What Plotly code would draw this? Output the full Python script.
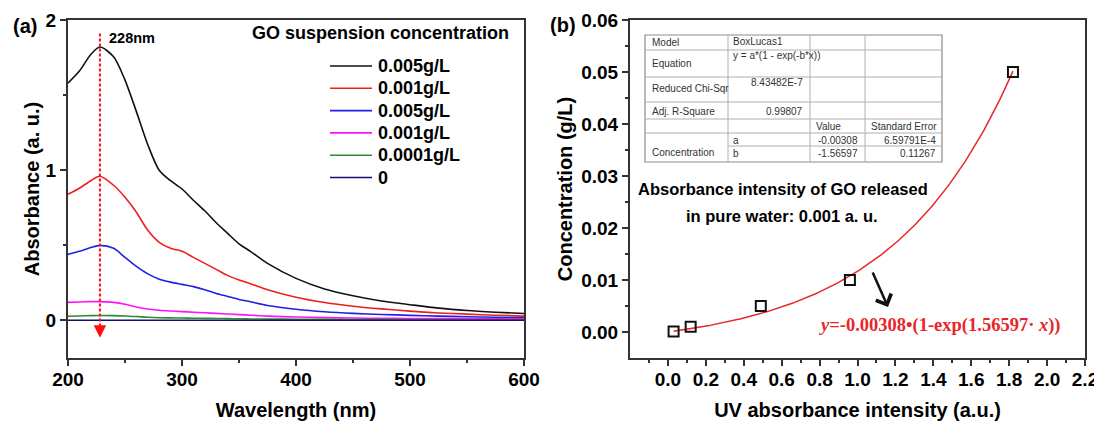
import numpy as np
import plotly.graph_objects as go

# The page body has an 8px default margin, so the figure is drawn 8px in
# from the top-left corner of the 1102x424 window.
PAGE_W, PAGE_H = 1102, 424
OFF = 8
W, H = PAGE_W - OFF, PAGE_H - OFF
FONT = "Liberation Sans, Arial, sans-serif"
SERIF = "Liberation Serif, Times New Roman, serif"

# ---------------- Panel (a) data: UV-vis spectra ----------------
wavelength = [200, 210, 220, 228, 240, 250, 260, 270, 280, 290, 300, 310, 320, 330,
              340, 350, 360, 375, 400, 425, 450, 475, 500, 525, 550, 575, 600]
abs_black = [1.58, 1.66, 1.77, 1.82, 1.755, 1.60, 1.39, 1.17, 1.00, 0.93, 0.875, 0.80, 0.73, 0.65,
             0.58, 0.51, 0.46, 0.38, 0.28, 0.21, 0.165, 0.13, 0.105, 0.082, 0.066, 0.055, 0.046]
abs_red = [0.84, 0.88, 0.93, 0.96, 0.90, 0.82, 0.72, 0.60, 0.52, 0.48, 0.46, 0.42, 0.38, 0.34,
           0.30, 0.27, 0.245, 0.205, 0.155, 0.12, 0.095, 0.077, 0.062, 0.05, 0.042, 0.035, 0.029]
abs_blue = [0.44, 0.46, 0.485, 0.50, 0.48, 0.42, 0.36, 0.31, 0.275, 0.255, 0.24, 0.225, 0.205, 0.18,
            0.16, 0.14, 0.125, 0.10, 0.075, 0.058, 0.047, 0.04, 0.034, 0.029, 0.025, 0.021, 0.018]
abs_magenta = [0.12, 0.123, 0.125, 0.125, 0.12, 0.108, 0.09, 0.076, 0.068, 0.063, 0.059, 0.055, 0.051, 0.047,
               0.043, 0.039, 0.035, 0.029, 0.023, 0.019, 0.016, 0.014, 0.013, 0.012, 0.012, 0.011, 0.011]
abs_green = [0.028, 0.03, 0.032, 0.033, 0.032, 0.03, 0.026, 0.021, 0.018, 0.017, 0.016, 0.015, 0.014, 0.013,
             0.012, 0.011, 0.01, 0.009, 0.008, 0.007, 0.006, 0.006, 0.005, 0.005, 0.005, 0.004, 0.004]
abs_navy = [0.001, 0.001, 0.001, 0.001, 0.001, 0.001, 0.001, 0.001, 0.001, 0.001, 0.001, 0.001, 0.001, 0.001,
            0.001, 0.001, 0.001, 0.001, 0.001, 0.001, 0.001, 0.001, 0.001, 0.001, 0.001, 0.001, 0.001]
legend_labels = ["0.005g/L", "0.001g/L", "0.005g/L", "0.001g/L", "0.0001g/L", "0"]
legend_title = "GO suspension concentration"
peak_nm = 228
peak_label = "228nm"

xticks_a = [200, 300, 400, 500, 600]
yticks_a = [0, 1, 2]

# ---------------- Panel (b) data: calibration ----------------
uv_absorbance = [0.03, 0.12, 0.49, 0.96, 1.82]
concentration = [0.0001, 0.001, 0.005, 0.01, 0.05]
fit_a = -0.00308
fit_b = -1.56597

xticks_b = [0.0, 0.2, 0.4, 0.6, 0.8, 1.0, 1.2, 1.4, 1.6, 1.8, 2.0, 2.2]
yticks_b = [0.00, 0.01, 0.02, 0.03, 0.04, 0.05, 0.06]

note_lines = ["Absorbance intensity of GO released", "in pure water: 0.001 a. u."]

table_col1 = ["Model", "Equation", "Reduced Chi-Sqr", "Adj. R-Square", "Concentration"]
table_model = "BoxLucas1"
table_equation = "y = a*(1 - exp(-b*x))"
table_chisqr = "8.43482E-7"
table_r2 = "0.99807"
table_headers = ["Value", "Standard Error"]
table_params = ["a", "b"]
table_values = ["-0.00308", "-1.56597"]
table_errors = ["6.59791E-4", "0.11267"]


def px(x):
    return (x - OFF) / W


def py(y):
    return 1 - (y - OFF) / H


AX = "#333333"
colors = ["#111111", "#f01d1d", "#2020e6", "#ff10ff", "#2e8b2e", "#101070"]
spectra = [abs_black, abs_red, abs_blue, abs_magenta, abs_green, abs_navy]

fig = go.Figure()
for name, vals, c in zip(legend_labels, spectra, colors):
    fig.add_trace(go.Scatter(x=wavelength, y=vals, mode="lines", name=name,
                             line=dict(color=c, width=1.6, shape="spline", smoothing=0.8),
                             showlegend=False, xaxis="x", yaxis="y"))

# dashed red marker line at the peak
fig.add_trace(go.Scatter(x=[peak_nm, peak_nm], y=[1.91, -0.05], mode="lines",
                         line=dict(color="#ff1010", width=2, dash="3px,2px"),
                         showlegend=False, hoverinfo="skip", xaxis="x", yaxis="y"))

# Panel (b)
fit_x = np.linspace(min(uv_absorbance), max(uv_absorbance), 200)
fit_y = fit_a * (1 - np.exp(-fit_b * fit_x))
fig.add_trace(go.Scatter(x=fit_x, y=fit_y, mode="lines", line=dict(color="#e8262a", width=1.5),
                         showlegend=False, xaxis="x2", yaxis="y2"))
fig.add_trace(go.Scatter(x=uv_absorbance, y=concentration, mode="markers",
                         marker=dict(symbol="square-open", size=10, color="#111111",
                                     line=dict(width=2, color="#111111")),
                         showlegend=False, xaxis="x2", yaxis="y2"))

tickfont = dict(family=FONT, size=19, color="black", weight="bold")
titlefont = dict(family=FONT, size=20, color="black", weight="bold")
common = dict(showline=True, linecolor=AX, linewidth=2, mirror=True, ticks="outside",
              tickcolor=AX, tickwidth=1.5, ticklen=6, tickfont=tickfont, showgrid=False,
              zeroline=False, automargin=False)
minor_common = dict(ticks="outside", ticklen=3, tickcolor=AX, tickwidth=1.5, showgrid=False)

dom_y = [py(358), py(20)]
fig.update_layout(
    width=W, height=H, margin=dict(l=0, r=0, t=0, b=0, autoexpand=False),
    paper_bgcolor="white", plot_bgcolor="white",
    xaxis=dict(domain=[px(68), px(524)], range=[200, 600], tickmode="array", tickvals=xticks_a,
               minor=dict(tickmode="array", tickvals=[250, 350, 450, 550], **minor_common),
               ticklabelstandoff=-3,
               title=dict(text="Wavelength (nm)", font=titlefont, standoff=14), anchor="y", **common),
    yaxis=dict(domain=dom_y, range=[-0.25, 2], tickmode="array", tickvals=yticks_a,
               ticktext=[str(v) for v in yticks_a],
               minor=dict(tickmode="array", tickvals=[0.5, 1.5], **minor_common),
               title=dict(text="Absorbance (a. u.)", font=titlefont, standoff=1), anchor="x", **common),
    xaxis2=dict(domain=[px(630), px(1085)], range=[-0.2, 2.2], tickmode="array", tickvals=xticks_b,
                ticktext=[f"{v:.1f}" for v in xticks_b],
                minor=dict(tickmode="array", tickvals=[round(-0.1 + 0.2 * i, 1) for i in range(12)],
                           **minor_common),
                ticklabelstandoff=-3,
                title=dict(text="UV absorbance intensity (a.u.)", font=titlefont, standoff=14),
                anchor="y2", **common),
    yaxis2=dict(domain=dom_y, range=[-0.005, 0.06], tickmode="array", tickvals=yticks_b,
                ticktext=[f"{v:.2f}" for v in yticks_b],
                minor=dict(tickmode="array", tickvals=[0.005 + 0.01 * i for i in range(6)], **minor_common),
                title=dict(text="Concentration (g/L)", font=titlefont, standoff=3),
                anchor="x2", **common),
    showlegend=False,
)

ann = []
shapes = []
bold = lambda s: dict(family=FONT, size=s, color="black", weight="bold")


def text_at(text, x, y, font, xanchor="center", yanchor="middle"):
    ann.append(dict(text=text, x=px(x), y=py(y), xref="paper", yref="paper", xanchor=xanchor,
                    yanchor=yanchor, showarrow=False, font=font))


text_at("(a)", 25, 26, bold(20))
text_at("(b)", 563, 25, bold(20))
ann.append(dict(text=peak_label, x=peak_nm, y=1.88, xref="x", yref="y", xanchor="left", yanchor="middle",
                xshift=7, showarrow=False, font=bold(14.5)))

# legend (panel a)
text_at(legend_title, 380, 33, bold(18))
leg_y0, leg_dy = 66, 22.3
for i, (lab, c) in enumerate(zip(legend_labels, colors)):
    yy = leg_y0 + i * leg_dy
    shapes.append(dict(type="line", xref="paper", yref="paper", x0=px(330), x1=px(372),
                       y0=py(yy), y1=py(yy), line=dict(color=c, width=1.6)))
    text_at(lab, 376, yy, bold(18), xanchor="left")

# red arrow head at the bottom of the peak line
ann.append(dict(x=peak_nm, y=-0.115, xref="x", yref="y", ax=0, ay=-12, showarrow=True, text="",
                arrowhead=2, arrowsize=1.25, arrowwidth=2, arrowcolor="#ff1010", standoff=0))

# notes in panel (b)
text_at(note_lines[0], 783, 189, bold(16.5))
text_at(note_lines[1], 782, 216, bold(16.5))
# black arrow
ann.append(dict(x=px(888), y=py(307), xref="paper", yref="paper", ax=-16, ay=-36, showarrow=True, text="",
                arrowhead=4, arrowsize=1.3, arrowwidth=2.5, arrowcolor="#111111", standoff=0))
eq_text = f"<i>y</i>={fit_a}•(1-exp({-fit_b}· <i>x</i>))"
text_at(eq_text, 817, 325, dict(family=SERIF, size=18.5, color="#e8262a", weight="bold"), xanchor="left")

# inset table
tfont = dict(family=FONT, size=10, color="#333333")
cols = [645, 728, 810, 865, 942]
rows = [35, 50, 77, 102, 119, 133, 162]
shapes.append(dict(type="rect", xref="paper", yref="paper", x0=px(cols[0]), x1=px(cols[-1]),
                   y0=py(rows[0]), y1=py(rows[-1]), line=dict(color="#8c8c8c", width=1.2),
                   fillcolor="white", layer="below"))
for r in rows[1:-1]:
    shapes.append(dict(type="line", xref="paper", yref="paper", x0=px(cols[0]), x1=px(cols[-1]),
                       y0=py(r), y1=py(r), line=dict(color="#b0b0b0", width=1)))
shapes.append(dict(type="line", xref="paper", yref="paper", x0=px(cols[1]), x1=px(cols[-1]),
                   y0=py(146), y1=py(146), line=dict(color="#b0b0b0", width=1)))
for c in cols[1:-1]:
    shapes.append(dict(type="line", xref="paper", yref="paper", x0=px(c), x1=px(c),
                       y0=py(rows[0]), y1=py(rows[-1]), line=dict(color="#b0b0b0", width=1)))

label_y = [42, 64, 88, 111, 152]
for t, yy in zip(table_col1, label_y):
    text_at(t, 650, yy, tfont, xanchor="left")
text_at(table_model, 731, 41, tfont, xanchor="left")
text_at(table_equation, 731, 55, tfont, xanchor="left")
text_at(table_chisqr, 805, 82, tfont, xanchor="right")
text_at(table_r2, 805, 111, tfont, xanchor="right")
text_at(table_headers[0], 814, 126, tfont, xanchor="left")
text_at(table_headers[1], 869, 126, tfont, xanchor="left")
for i, yy in enumerate([140, 153]):
    text_at(table_params[i], 731, yy, tfont, xanchor="left")
    text_at(table_values[i], 860, yy, tfont, xanchor="right")
    text_at(table_errors[i], 938, yy, tfont, xanchor="right")

fig.update_layout(annotations=ann, shapes=shapes)
fig.write_html("out.html")
